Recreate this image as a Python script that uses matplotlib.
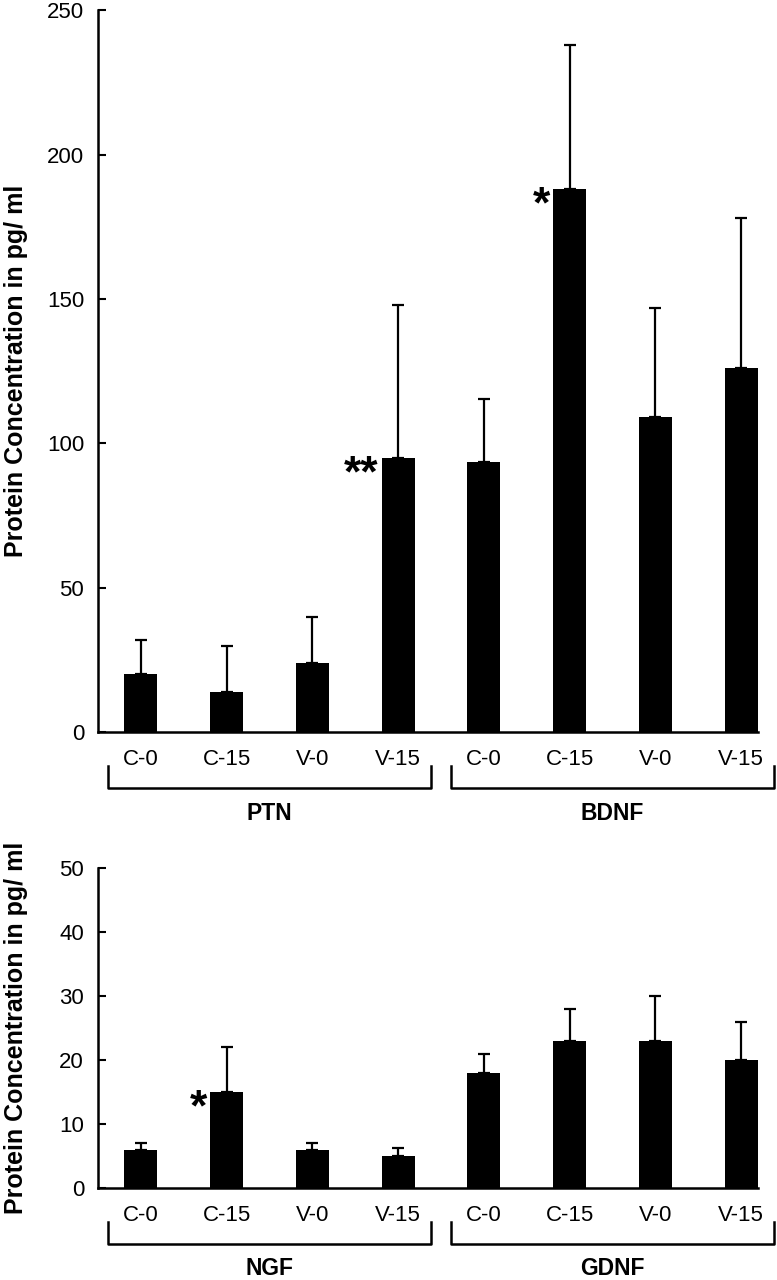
import numpy as np
import matplotlib
matplotlib.use("Agg")
import matplotlib.pyplot as plt
import matplotlib.transforms as mtransforms

plt.rcParams['font.family'] = ['Liberation Sans', 'DejaVu Sans']

# data
conds = ["C-0", "C-15", "V-0", "V-15", "C-0", "C-15", "V-0", "V-15"]
top_groups = ["PTN", "BDNF"]
top_vals = [20, 14, 24, 95, 93.5, 188, 109, 126]
top_err = [12, 16, 16, 53, 22, 50, 38, 52]
top_stars = {3: "**", 5: "*"}

bot_groups = ["NGF", "GDNF"]
bot_vals = [6, 15, 6, 5, 18, 23, 23, 20]
bot_err = [1, 7, 1, 1.2, 3, 5, 7, 6]
bot_stars = {1: "*"}

ylabel = "Protein Concentration in pg/ ml"

fig = plt.figure(figsize=(7.77, 12.8), dpi=100)
ax1 = fig.add_axes([0.126, 0.428, 0.849, 0.564])
ax2 = fig.add_axes([0.126, 0.0719, 0.849, 0.25])

bw = 0.385


def panel(ax, vals, err, groups, stars, ymax, step):
    x = np.arange(len(vals))
    ax.bar(x, vals, width=bw, color='black', zorder=2)
    ax.errorbar(x, vals, yerr=[np.zeros(len(err)), err], fmt='none',
                ecolor='black', elinewidth=1.6, capsize=4.5, capthick=1.6, zorder=1)
    ax.set_xlim(-0.5, len(vals) - 1 + bw / 2)
    ax.set_ylim(0, ymax)
    ax.set_yticks(np.arange(0, ymax + 1, step))
    ax.set_xticks(x)
    ax.set_xticklabels(conds, fontsize=16)
    ax.tick_params(axis='x', length=0, pad=12)
    ax.tick_params(axis='y', direction='in', length=6, width=1.5, labelsize=16, pad=10)
    for s in ['top', 'right']:
        ax.spines[s].set_visible(False)
    for s in ['left', 'bottom']:
        ax.spines[s].set_linewidth(1.8)
    ax.set_ylabel(ylabel, fontsize=18, fontweight='bold')
    ax.yaxis.set_label_coords(-0.106, 0.5)

    # brackets under each group (offsets in pixels below the x axis)
    h_px = ax.get_position().height * fig.get_figheight() * fig.dpi
    tr = (mtransforms.blended_transform_factory(ax.transData, ax.transAxes)
          + mtransforms.ScaledTranslation(0, -56 / fig.dpi, fig.dpi_scale_trans))
    up = 22 / h_px
    for g, name in enumerate(groups):
        x0 = g * 4 - 0.38
        x1 = g * 4 + 3.38
        ax.add_line(plt.Line2D([x0, x0, x1, x1], [up, 0, 0, up], color='black', lw=1.8,
                               transform=tr, clip_on=False))
        ax.annotate(name, xy=((x0 + x1) / 2, 0), xycoords=('data', 'axes fraction'),
                    xytext=(0, -81 * 0.72), textcoords='offset points', ha='center', va='center',
                    fontsize=16.5, fontweight='bold')

    for i, s in stars.items():
        ax.annotate(s, xy=(x[i] - bw / 2, vals[i]), xytext=(-2, -12), textcoords='offset points',
                    ha='right', va='center', fontsize=32, fontweight='bold')


panel(ax1, top_vals, top_err, top_groups, top_stars, 250, 50)
panel(ax2, bot_vals, bot_err, bot_groups, bot_stars, 50, 10)

fig.savefig("out.png", dpi=100)
